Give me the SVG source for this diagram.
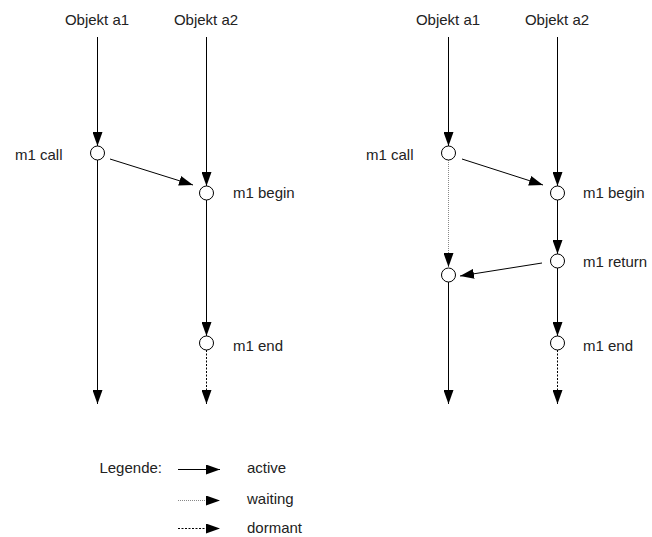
<svg xmlns="http://www.w3.org/2000/svg" width="652" height="537" viewBox="0 0 652 537">
  <style>
    text { font-family: "Liberation Sans", "DejaVu Sans", sans-serif; font-size: 15px; fill: #222; }
    .title { text-anchor: middle; }
    .ln { stroke: #000; stroke-width: 1; fill: none; }
    .active { marker-end: url(#head); }
    .waiting { stroke: #888; stroke-dasharray: 1 1; }
    .dormant { stroke-dasharray: 2 1.5; }
    .node circle { fill: #fff; stroke: #000; stroke-width: 1; }
  </style>
  <defs>
    <marker id="head" viewBox="0 0 14 10" refX="14" refY="5" markerWidth="14" markerHeight="10" markerUnits="userSpaceOnUse" orient="auto">
      <path d="M0,0 L14,5 L0,10 Z" fill="#000"/>
    </marker>
  </defs>

  <!-- lifeline headings -->
  <g id="left-a1-title"><text class="title" x="97" y="25">Objekt a1</text></g>
  <g id="left-a2-title"><text class="title" x="206" y="25">Objekt a2</text></g>
  <g id="right-a1-title"><text class="title" x="448" y="25">Objekt a1</text></g>
  <g id="right-a2-title"><text class="title" x="557" y="25">Objekt a2</text></g>

  <!-- connectors -->
  <g id="connectors" class="ln">
    <!-- left panel -->
    <line class="active" x1="97.5" y1="37" x2="97.5" y2="146"/>
    <line class="active" x1="97.5" y1="160" x2="97.5" y2="404"/>
    <line class="active" x1="110" y1="159" x2="193" y2="185"/>
    <line class="active" x1="206.5" y1="37" x2="206.5" y2="186"/>
    <line class="active" x1="206.5" y1="200" x2="206.5" y2="336"/>
    <line class="active dormant" x1="206.5" y1="350" x2="206.5" y2="404"/>

    <!-- right panel -->
    <line class="active" x1="448.5" y1="37" x2="448.5" y2="146"/>
    <line class="active waiting" x1="448.5" y1="160" x2="448.5" y2="267"/>
    <line class="active" x1="462" y1="159" x2="543" y2="185"/>
    <line class="active" x1="557.5" y1="37" x2="557.5" y2="186"/>
    <line class="active" x1="557.5" y1="200" x2="557.5" y2="254"/>
    <line class="active" x1="542" y1="263" x2="460" y2="276"/>
    <line class="active" x1="448.5" y1="282" x2="448.5" y2="404"/>
    <line class="active" x1="557.5" y1="268" x2="557.5" y2="336"/>
    <line class="active dormant" x1="557.5" y1="350" x2="557.5" y2="404"/>

    <!-- legend samples -->
    <line class="active" x1="178" y1="469.5" x2="220" y2="469.5"/>
    <line class="active waiting" x1="178" y1="500.5" x2="220" y2="500.5"/>
    <line class="active dormant" x1="178" y1="528.5" x2="220" y2="528.5"/>
  </g>

  <!-- event nodes, left panel -->
  <g id="left-m1-call" class="node">
    <circle cx="97.5" cy="153" r="7"/>
    <text x="15" y="160">m1 call</text>
  </g>
  <g id="left-m1-begin" class="node">
    <circle cx="206.5" cy="193" r="7"/>
    <text x="233" y="198">m1 begin</text>
  </g>
  <g id="left-m1-end" class="node">
    <circle cx="206.5" cy="343" r="7"/>
    <text x="233" y="351">m1 end</text>
  </g>

  <!-- event nodes, right panel -->
  <g id="right-m1-call" class="node">
    <circle cx="448.5" cy="153" r="7"/>
    <text x="366" y="160">m1 call</text>
  </g>
  <g id="right-m1-begin" class="node">
    <circle cx="557.5" cy="193" r="7"/>
    <text x="583" y="198">m1 begin</text>
  </g>
  <g id="right-m1-return" class="node">
    <circle cx="557.5" cy="261" r="7"/>
    <text x="583" y="267">m1 return</text>
  </g>
  <g id="right-a1-resume" class="node">
    <circle cx="448.5" cy="275" r="7"/>
  </g>
  <g id="right-m1-end" class="node">
    <circle cx="557.5" cy="343" r="7"/>
    <text x="583" y="351">m1 end</text>
  </g>

  <!-- legend -->
  <g id="legend">
    <text x="162" y="473" text-anchor="end">Legende:</text>
    <text x="247" y="473">active</text>
    <text x="247" y="504">waiting</text>
    <text x="247" y="533">dormant</text>
  </g>
</svg>
